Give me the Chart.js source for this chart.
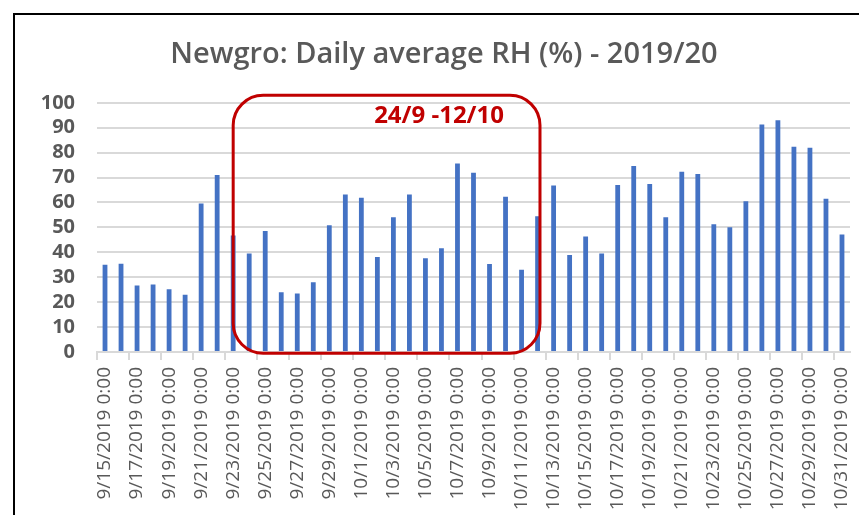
<!DOCTYPE html>
<html>
<head>
<meta charset="utf-8">
<script src="https://cdn.jsdelivr.net/npm/chart.js@4.4.1/dist/chart.umd.min.js"></script>
<style>
html,body{margin:0;padding:0;background:#fff;overflow:hidden;}
#wrap{position:absolute;left:0;top:0;width:859px;height:515px;}
#frame{position:absolute;left:13px;top:13px;width:900px;height:600px;border-left:2px solid #000;border-top:2px solid #000;}
canvas{position:absolute;left:0;top:0;}
</style>
</head>
<body>
<div id="wrap"><div id="frame"></div><canvas id="rhChart" width="859" height="515"></canvas></div>
<script>
const days = [
"9/15/2019 0:00","9/16/2019 0:00","9/17/2019 0:00","9/18/2019 0:00","9/19/2019 0:00","9/20/2019 0:00",
"9/21/2019 0:00","9/22/2019 0:00","9/23/2019 0:00","9/24/2019 0:00","9/25/2019 0:00","9/26/2019 0:00",
"9/27/2019 0:00","9/28/2019 0:00","9/29/2019 0:00","9/30/2019 0:00","10/1/2019 0:00","10/2/2019 0:00",
"10/3/2019 0:00","10/4/2019 0:00","10/5/2019 0:00","10/6/2019 0:00","10/7/2019 0:00","10/8/2019 0:00",
"10/9/2019 0:00","10/10/2019 0:00","10/11/2019 0:00","10/12/2019 0:00","10/13/2019 0:00","10/14/2019 0:00",
"10/15/2019 0:00","10/16/2019 0:00","10/17/2019 0:00","10/18/2019 0:00","10/19/2019 0:00","10/20/2019 0:00",
"10/21/2019 0:00","10/22/2019 0:00","10/23/2019 0:00","10/24/2019 0:00","10/25/2019 0:00","10/26/2019 0:00",
"10/27/2019 0:00","10/28/2019 0:00","10/29/2019 0:00","10/30/2019 0:00","10/31/2019 0:00"
];

const rh = [
35, 35.4, 26.7, 27.1, 25.2, 23, 59.6, 71, 46.7, 39.5,
48.6, 24, 23.5, 28, 50.9, 63.2, 61.9, 38.1, 54.1, 63.2,
37.6, 41.6, 75.6, 71.9, 35.3, 62.3, 33, 54.5, 66.8, 38.9,
46.3, 39.5, 67, 74.6, 67.4, 54.1, 72.3, 71.4, 51.3, 50.1,
60.5, 91.3, 93, 82.4, 82, 61.5, 47.2
];

const yTicks = [0,10,20,30,40,50,60,70,80,90,100];

// highlighted period box (category index / RH units)
const boxText = "24/9 -12/10";
const boxX = [8, 27.15];
const boxY = [-0.5, 103];
const boxLabelAt = [20.85, 94.5];

const gray = "#595959";
const lightGray = "#d9d9d9";

const periodBox = {
  id: "periodBox",
  afterDraw(chart){
    let ctx = chart.ctx;
    let xs = chart.scales.x, ys = chart.scales.y;
    let x1 = xs.getPixelForValue(boxX[0]), x2 = xs.getPixelForValue(boxX[1]);
    let y1 = ys.getPixelForValue(boxY[1]), y2 = ys.getPixelForValue(boxY[0]);
    ctx.save();
    ctx.strokeStyle = "#C00000";
    ctx.lineWidth = 3;
    ctx.beginPath();
    ctx.roundRect(x1, y1, x2 - x1, y2 - y1, 30);
    ctx.stroke();
    ctx.fillStyle = "#C00000";
    ctx.font = "bold 24px 'Open Sans'";
    ctx.textAlign = "center";
    ctx.textBaseline = "middle";
    ctx.fillText(boxText, xs.getPixelForValue(boxLabelAt[0]), ys.getPixelForValue(boxLabelAt[1]));
    ctx.restore();
  }
};

new Chart(document.getElementById("rhChart"), {
  type: "bar",
  data: {
    labels: days,
    datasets: [{
      label: "RH",
      data: rh,
      backgroundColor: "#4472C4",
      barPercentage: 0.3,
      categoryPercentage: 1
    }]
  },
  options: {
    responsive: false,
    animation: false,
    layout: { padding: { left: 38, right: 9, top: 37, bottom: 0 } },
    plugins: {
      legend: { display: false },
      tooltip: { enabled: false },
      title: {
        display: true,
        text: "Newgro: Daily average RH (%) - 2019/20",
        color: gray,
        font: { family: "'Open Sans'", size: 29, weight: "600", lineHeight: 1.2 },
        padding: { top: 0, bottom: 31 }
      }
    },
    scales: {
      x: {
        afterFit(s){ s.height = 163; s.paddingLeft = 0; s.paddingRight = 0; },
        border: { color: lightGray, width: 2 },
        grid: {
          offset: true,
          drawOnChartArea: false,
          tickLength: 8,
          lineWidth: 2,
          color: c => c.index % 2 === 0 ? lightGray : "rgba(0,0,0,0)"
        },
        ticks: {
          autoSkip: false,
          minRotation: 90,
          maxRotation: 90,
          padding: 7,
          color: gray,
          font: { family: "'Open Sans'", size: 19 },
          callback: function(v, i){ return i % 2 === 0 ? this.getLabelForValue(v) : ""; }
        }
      },
      y: {
        min: 0,
        max: 100,
        afterFit(s){ s.width = 59; },
        afterBuildTicks(s){ s.ticks = yTicks.map(v => ({ value: v })); },
        border: { display: false },
        grid: { color: lightGray, lineWidth: 2, drawTicks: false },
        ticks: {
          autoSkip: false,
          padding: 22,
          color: gray,
          font: { family: "'Open Sans'", size: 20, weight: "bold" }
        }
      }
    }
  },
  plugins: [periodBox]
});
</script>
</body>
</html>
